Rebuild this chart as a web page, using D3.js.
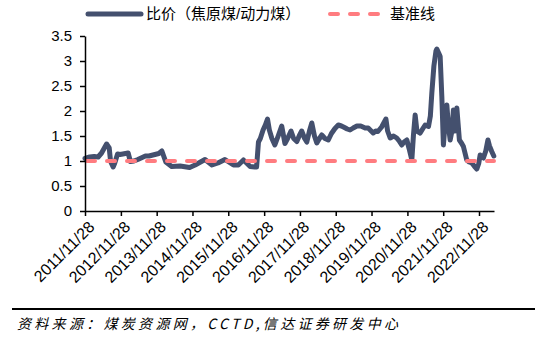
<!DOCTYPE html>
<html><head><meta charset="utf-8">
<script src="https://cdn.jsdelivr.net/npm/d3@7/dist/d3.min.js"></script>
<style>body{margin:0;background:#fff}svg{display:block}</style>
</head><body><svg id="c" width="550" height="347"></svg>
<script>
// ---- data ----
const dates = [
"2011-11-28","2012-01-15","2012-03-01","2012-04-10","2012-05-15","2012-07-05","2012-08-01","2012-08-15","2012-09-10","2012-09-25",
"2012-10-25","2012-11-20","2013-02-10","2013-03-05","2013-04-10","2013-05-20","2013-08-05","2013-09-10","2013-11-10","2013-12-20",
"2014-01-20","2014-03-01","2014-04-30","2014-07-25","2014-10-30","2014-12-25","2015-04-05","2015-06-15","2015-08-15","2015-10-25",
"2016-01-20","2016-03-10","2016-05-01","2016-07-08","2016-08-25","2016-09-12","2016-10-01","2016-10-20","2016-11-17","2016-12-10",
"2017-01-01","2017-01-20","2017-02-15","2017-03-17","2017-04-20","2017-05-26","2017-06-28","2017-07-25","2017-08-29","2017-09-25",
"2017-10-27","2017-11-20","2017-12-16","2018-01-15","2018-02-06","2018-03-05","2018-03-29","2018-04-25","2018-05-19","2018-06-15",
"2018-07-09","2018-08-10","2018-09-13","2018-10-15","2018-11-20","2018-12-24","2019-01-25","2019-02-25","2019-03-25","2019-04-23",
"2019-05-25","2019-07-02","2019-08-10","2019-09-24","2019-10-25","2019-12-15","2020-01-10","2020-02-01","2020-03-10","2020-04-23",
"2020-05-10","2020-06-05","2020-07-10","2020-08-11","2020-09-05","2020-10-01","2020-10-25","2020-11-22","2020-12-15","2021-01-12",
"2021-01-28","2021-02-15","2021-03-05","2021-04-07","2021-05-05","2021-05-28","2021-07-01","2021-07-20","2021-08-04","2021-08-25",
"2021-09-15","2021-09-24","2021-10-15","2021-10-28","2021-11-14","2021-11-30","2021-12-15","2022-01-04","2022-01-20","2022-02-07",
"2022-02-25","2022-03-12","2022-03-28","2022-04-16","2022-05-12","2022-06-05","2022-06-22","2022-07-26","2022-08-20","2022-09-16",
"2022-10-10","2022-11-06","2022-11-25","2022-12-10","2023-01-12","2023-02-05","2023-02-27","2023-03-15","2023-04-07","2023-04-28"
];
const ratio = [
1.05,1.08,1.09,1.08,1.16,1.34,1.26,0.99,0.88,0.95,
1.14,1.13,1.16,0.99,1.00,1.03,1.10,1.10,1.13,1.15,
1.20,0.98,0.89,0.90,0.87,0.92,1.03,0.92,0.96,1.03,
0.92,0.92,1.02,0.89,0.88,0.88,1.38,1.45,1.62,1.72,
1.84,1.62,1.45,1.32,1.50,1.70,1.35,1.45,1.60,1.45,
1.39,1.50,1.60,1.45,1.38,1.60,1.76,1.50,1.36,1.45,
1.52,1.45,1.42,1.55,1.65,1.72,1.70,1.67,1.64,1.62,
1.66,1.70,1.70,1.66,1.66,1.56,1.60,1.59,1.68,1.84,
1.60,1.46,1.50,1.46,1.40,1.32,1.38,1.42,1.25,1.02,
1.50,1.92,1.60,1.56,1.65,1.72,1.69,1.90,2.36,2.90,
3.20,3.24,3.15,3.09,2.29,1.32,1.70,2.12,1.70,1.42,
1.60,2.02,1.60,2.06,1.42,1.35,1.29,1.02,0.98,0.96,
0.90,0.84,0.95,1.12,1.06,1.20,1.42,1.30,1.19,1.10
];
const baselineValue = 1;
const xTickDates = ["2011-11-28","2012-11-28","2013-11-28","2014-11-28","2015-11-28","2016-11-28",
  "2017-11-28","2018-11-28","2019-11-28","2020-11-28","2021-11-28","2022-11-28"];
const yTicks = [0,0.5,1,1.5,2,2.5,3,3.5];
const seriesNames = ["比价（焦原煤/动力煤）","基准线"];
const sourceText = "资料来源：煤炭资源网，CCTD,信达证券研发中心";

// ---- drawing ----
const FONT = "'Liberation Sans', Arial, 'Noto Sans CJK SC', sans-serif";
const parse = d3.timeParse("%Y-%m-%d");
const fmt = d3.timeFormat("%Y/%-m/%-d");
const data = dates.map((d,i)=>({date:parse(d), v:ratio[i]}));

const svg = d3.select("#c");
const x = d3.scaleTime().domain([parse("2011-11-28"), parse("2023-04-30")]).range([85,494]);
const y = d3.scaleLinear().domain([0,3.5]).range([211,36]);

// series line
svg.append("path").datum(data)
  .attr("d", d3.line().x(d=>x(d.date)).y(d=>y(d.v)))
  .attr("fill","none").attr("stroke","#44506E").attr("stroke-width",5)
  .attr("stroke-linejoin","round").attr("stroke-linecap","round");

// baseline
const bx = x.domain();
svg.append("line")
  .attr("x1",x(bx[0])+2).attr("x2",x(bx[1]))
  .attr("y1",y(baselineValue)).attr("y2",y(baselineValue))
  .attr("stroke","#FF7C80").attr("stroke-width",4)
  .attr("stroke-dasharray","8 12").attr("stroke-linecap","round");

// axes
const yAxis = svg.append("g").attr("transform","translate(85,0)")
  .call(d3.axisLeft(y).tickValues(yTicks).tickSize(5).tickSizeOuter(0).tickPadding(8).tickFormat(d3.format("")));
const xAxis = svg.append("g").attr("transform","translate(0,211)")
  .call(d3.axisBottom(x).tickValues(xTickDates.map(parse)).tickSize(5).tickSizeOuter(0).tickFormat(fmt));
[yAxis,xAxis].forEach(g=>{
  g.selectAll("path,line").attr("stroke","#000").attr("stroke-width",1.5);
  g.selectAll("text").attr("fill","#000").style("font-family",FONT).style("font-size","15px");
});
xAxis.selectAll(".tick text")
  .attr("text-anchor","end")
  .attr("x",0).attr("y",0).attr("dy","0.35em")
  .style("font-size","16px")
  .attr("transform","translate(6,13) rotate(-45)");

// legend
const lg = svg.append("g");
lg.append("line").attr("x1",88).attr("x2",141).attr("y1",14).attr("y2",14)
  .attr("stroke","#44506E").attr("stroke-width",5).attr("stroke-linecap","round");
lg.append("text").attr("x",146).attr("y",14).attr("dy","0.35em").text(seriesNames[0])
  .style("font-family",FONT).style("font-size","15px").attr("fill","#000");
lg.append("line").attr("x1",330).attr("x2",380).attr("y1",14).attr("y2",14)
  .attr("stroke","#FF7C80").attr("stroke-width",4)
  .attr("stroke-dasharray","8 12").attr("stroke-linecap","round");
lg.append("text").attr("x",390).attr("y",14).attr("dy","0.35em").text(seriesNames[1])
  .style("font-family",FONT).style("font-size","15px").attr("fill","#000");

// source
svg.append("line").attr("x1",12).attr("x2",535).attr("y1",309).attr("y2",309)
  .attr("stroke","#000").attr("stroke-width",2);
svg.append("text").attr("x",17).attr("y",324).attr("dy","0.35em").text(sourceText)
  .style("font-family","'Noto Sans CJK SC', sans-serif").style("font-size","14px")
  .style("font-style","italic").style("letter-spacing","3.3px").attr("fill","#000");
</script></body></html>
